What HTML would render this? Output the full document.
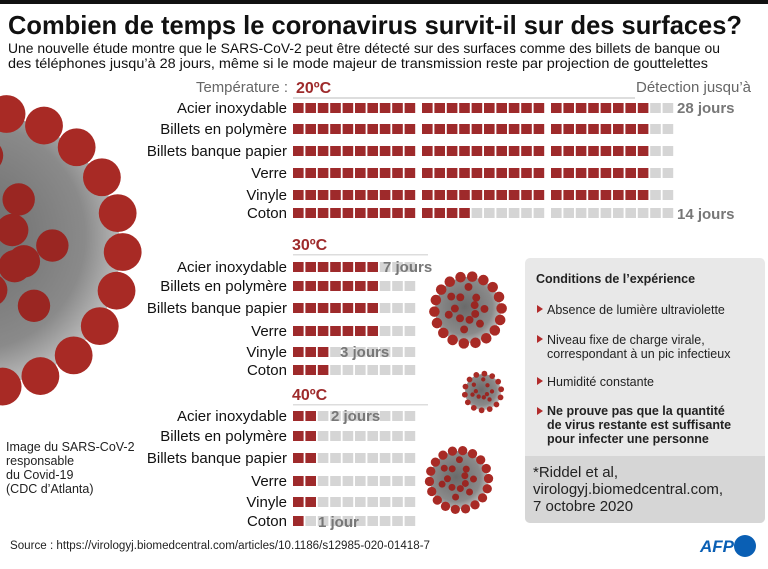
<!DOCTYPE html>
<html><head><meta charset="utf-8"><style>
body{margin:0;background:#fff;}
#c{position:relative;width:768px;height:569px;overflow:hidden;font-family:"Liberation Sans",sans-serif;}
</style></head><body><div id="c">
<svg id="s" width="768" height="569" xmlns="http://www.w3.org/2000/svg" style="position:absolute;left:0;top:0">
<defs>
<radialGradient id="vg" cx="0.45" cy="0.45" r="0.6"><stop offset="0" stop-color="#6a6a6a"/><stop offset="0.7" stop-color="#8a8a8a"/><stop offset="1" stop-color="#c8c8c8"/></radialGradient>
</defs>
<rect x="0" y="0" width="768" height="4" fill="#111"/>
<g id="virus"></g>
<g font-family="Liberation Sans, sans-serif">
<text x="8" y="34" font-size="26" font-weight="bold" fill="#111" textLength="734" lengthAdjust="spacingAndGlyphs">Combien de temps le coronavirus survit-il sur des surfaces?</text>
<text x="8" y="53" font-size="14" fill="#111" textLength="712" lengthAdjust="spacingAndGlyphs">Une nouvelle étude montre que le SARS-CoV-2  peut être détecté sur des surfaces comme des billets de banque ou</text>
<text x="8" y="68" font-size="14" fill="#111" textLength="700" lengthAdjust="spacingAndGlyphs">des téléphones jusqu’à 28 jours, même si le mode majeur de transmission reste par projection de gouttelettes</text>
<text x="196" y="92" font-size="15" fill="#666" textLength="92" lengthAdjust="spacingAndGlyphs">Température :</text>
<text x="296" y="93" font-size="16" font-weight="bold" fill="#9e2a2b">20ºC</text>
<text x="636" y="92" font-size="15" fill="#666" textLength="115" lengthAdjust="spacingAndGlyphs">Détection jusqu’à</text>
<rect x="293" y="97" width="342" height="2" fill="#ddd"/>
<text x="292" y="250" font-size="16" font-weight="bold" fill="#9e2a2b">30ºC</text>
<rect x="293" y="254" width="135" height="1.5" fill="#ddd"/>
<text x="292" y="400" font-size="16" font-weight="bold" fill="#9e2a2b">40ºC</text>
<rect x="293" y="404" width="135" height="1.5" fill="#ddd"/>
<g id="labels" font-size="15" fill="#111" text-anchor="end"></g>
<g id="grid"></g>
<g font-size="15" font-weight="bold" fill="#777">
<text x="677" y="113">28 jours</text>
<text x="677" y="219">14 jours</text>
<text x="383" y="272">7 jours</text>
<text x="340" y="357">3 jours</text>
<text x="331" y="421">2 jours</text>
<text x="318" y="527">1 jour</text>
</g>
<rect x="525" y="258" width="240" height="265" rx="5" fill="#e8e8e8"/>
<path d="M525 456 H765 V518 a5 5 0 0 1 -5 5 H530 a5 5 0 0 1 -5 -5Z" fill="#d6d6d6"/>
<g font-size="12.5" fill="#222">
<text x="536" y="283" font-weight="bold">Conditions de l’expérience</text>
<path d="M537 305 l6 4 l-6 4z M537 335 l6 4 l-6 4z M537 377 l6 4 l-6 4z M537 407 l6 4 l-6 4z" fill="#b22b2b"/>
<text x="547" y="314">Absence de lumière ultraviolette</text>
<text x="547" y="344">Niveau fixe de charge virale,</text>
<text x="547" y="358">correspondant à un pic infectieux</text>
<text x="547" y="386">Humidité constante</text>
<text x="547" y="415" font-weight="bold">Ne prouve pas que la quantité</text>
<text x="547" y="429" font-weight="bold">de virus restante est suffisante</text>
<text x="547" y="443" font-weight="bold">pour infecter une personne</text>
</g>
<g font-size="15" fill="#222">
<text x="533" y="477">*Riddel et al,</text>
<text x="533" y="494">virologyj.biomedcentral.com,</text>
<text x="533" y="511">7 octobre 2020</text>
</g>
<g font-size="12.5" fill="#222">
<text x="6" y="451">Image du SARS-CoV-2</text>
<text x="6" y="465">responsable</text>
<text x="6" y="479">du Covid-19</text>
<text x="6" y="493">(CDC d’Atlanta)</text>
</g>
<text x="10" y="549" font-size="11.5" fill="#222" textLength="420" lengthAdjust="spacingAndGlyphs">Source : https://virologyj.biomedcentral.com/articles/10.1186/s12985-020-01418-7</text>
<text x="700" y="552" font-size="17" font-weight="bold" font-style="italic" fill="#0a5fb4">AFP</text>
<circle cx="745" cy="546" r="11" fill="#0a5fb4"/>
</g>
</svg>
<script>
var NS="http://www.w3.org/2000/svg";
function el(p,t,a,txt){var e=document.createElementNS(NS,t);for(var k in a)e.setAttribute(k,a[k]);if(txt)e.textContent=txt;document.getElementById(p).appendChild(e);return e;}
var names=["Acier inoxydable","Billets en polymère","Billets banque papier","Verre","Vinyle","Coton"];
var secs=[{ys:[108,129,151,173,195,213],n:30,d:[28,28,28,28,28,14]},
{ys:[267,286,308,331,352,370],n:10,d:[7,7,7,7,3,3]},
{ys:[416,436,458,481,502,521],n:10,d:[2,2,2,2,2,1]}];
var R="#9e2a2b",G="#d5d5d5";
secs.forEach(function(s){s.ys.forEach(function(y,i){
el("labels","text",{x:287,y:y+5},names[i]);
for(var j=0;j<s.n;j++){var g=Math.floor(j/10);var x=293+j*12.4+g*5;
el("grid","rect",{x:x.toFixed(1),y:y-5,width:10.6,height:10,fill:j<s.d[i]?R:G});}
});});
function virus(cx,cy,r,n,sp){
el("virus","circle",{cx:cx,cy:cy,r:r,fill:"url(#vg)"});
for(var k=0;k<n;k++){var a=k*2*Math.PI/n+0.3;
el("virus","circle",{cx:cx+Math.cos(a)*r*1.02,cy:cy+Math.sin(a)*r*1.02,r:r*sp,fill:"#a82a25"});}
for(var k=0;k<Math.round(n*0.7);k++){var a=k*2.4+0.5,rr=r*(0.25+0.5*((k*37)%10)/10);
el("virus","circle",{cx:cx+Math.cos(a)*rr,cy:cy+Math.sin(a)*rr,r:r*0.12,fill:"#9a2622"});}
}
virus(-15,250,135,22,0.14);
virus(468,310,33,18,0.16);
virus(483,392,18,14,0.16);
virus(459,480,29,18,0.16);
</script>
</div></body></html>
